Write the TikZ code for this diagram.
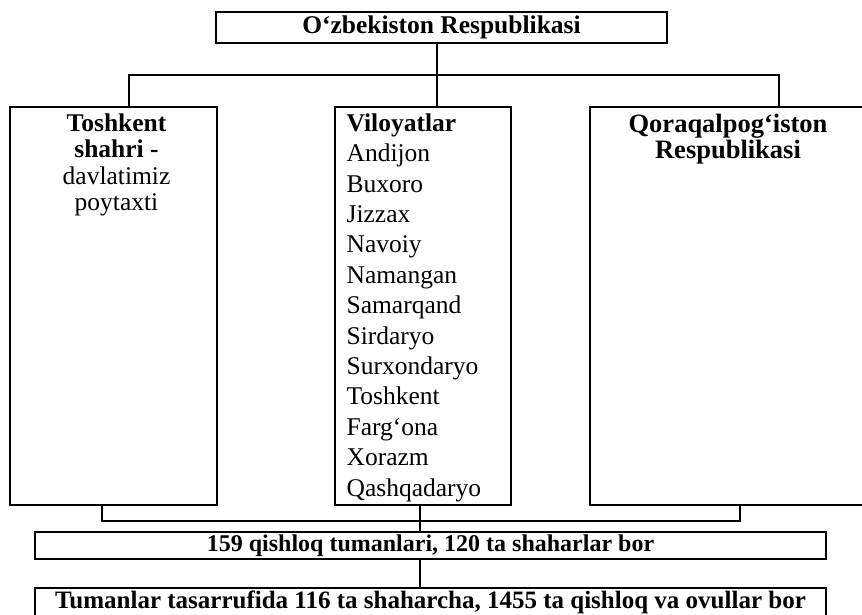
\documentclass[tikz,border=0pt]{standalone}
\usepackage{fontspec}
\setmainfont{Liberation Serif}
\usetikzlibrary{positioning}
\tikzset{
 box/.style={draw, line width=1.1pt, inner sep=0pt},
 sarlavha/.style={font=\bfseries\fontsize{25.5}{26.5}\selectfont, align=center, inner sep=0pt},
 royxat/.style={font=\fontsize{25.5}{30.4}\selectfont, align=left, inner sep=0pt},
 link/.style={line width=1.1pt}
}

\begin{document}
\begin{tikzpicture}[x=1pt,y=-1pt]
\useasboundingbox (0,0) rectangle (862,615);
\clip (0,0) rectangle (862,615);
% bloklar
\node[box,sarlavha,minimum width=451pt,minimum height=31pt] (respublika) at (441.5,27.5) {O‘zbekiston Respublikasi};
\node[box,minimum width=207pt,minimum height=398pt] (toshkent) at (113.5,306) {};
\node[box,minimum width=176pt,minimum height=398pt] (viloyat) at (423,306) {};
\node[box,minimum width=276pt,minimum height=398pt] (qoraqalpoq) at (728,306) {};
\node[box,sarlavha,font=\bfseries\fontsize{24}{26}\selectfont,minimum width=791pt,minimum height=27pt] (tumanlar) at (430.5,545.5) {159 qishloq tumanlari, 120 ta shaharlar bor};
\node[box,sarlavha,font=\bfseries\fontsize{25}{26}\selectfont,minimum width=791pt,minimum height=28pt] (shaharcha) at (430.5,602) {Tumanlar tasarrufida 116 ta shaharcha, 1455 ta qishloq va ovullar bor};
% bloklar ichidagi matn
\node[sarlavha,below=7pt of toshkent.north,xshift=3pt] (toshkentmatn) {Toshkent\\shahri -\\\mdseries davlatimiz\\\mdseries poytaxti};
\node[royxat,anchor=north west] (viloyatmatn) at ([xshift=12pt,yshift=-7pt]viloyat.north west) {\textbf{Viloyatlar}\\Andijon\\Buxoro\\Jizzax\\Navoiy\\Namangan\\Samarqand\\Sirdaryo\\Surxondaryo\\Toshkent\\Farg‘ona\\Xorazm\\Qashqadaryo};
\node[sarlavha,font=\bfseries\fontsize{26.5}{26.5}\selectfont,below=7pt of qoraqalpoq.north] (qoraqalpoqmatn) {Qoraqalpog‘iston\\Respublikasi};
% ulanishlar
\coordinate (yuqori) at (437,75);
\coordinate (chap) at (129,75);
\coordinate (ong) at (779,75);
\coordinate (pastchap) at (102,521);
\coordinate (pastong) at (740,521);
\coordinate (pastmarkaz) at (420,521);
\draw[link] (respublika.south -| yuqori) -- (viloyat.north -| yuqori);
\draw[link] (toshkent.north -| chap) -- (chap) -- (ong) -- (qoraqalpoq.north -| ong);
\draw[link] (toshkent.south -| pastchap) -- (pastchap) -- (pastong) -- (qoraqalpoq.south -| pastong);
\draw[link] (viloyat.south -| pastmarkaz) -- (tumanlar.north -| pastmarkaz);
\draw[link] (tumanlar.south -| pastmarkaz) -- (shaharcha.north -| pastmarkaz);
\end{tikzpicture}
\end{document}
